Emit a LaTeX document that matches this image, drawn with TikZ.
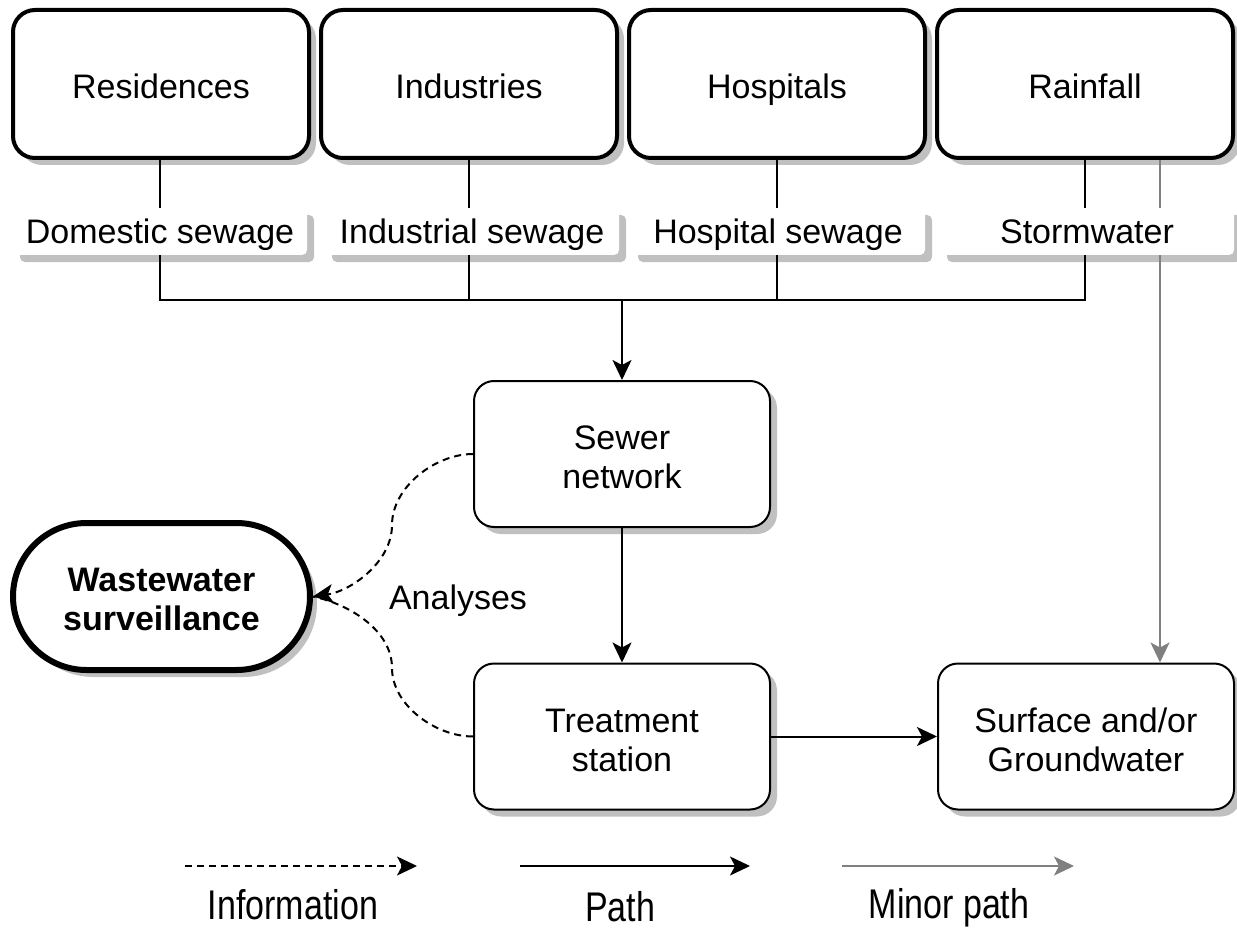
\documentclass[tikz,border=0pt]{standalone}
\usepackage{fontspec}
\usepackage{graphicx}
\setmainfont{Liberation Sans}
\usetikzlibrary{arrows.meta,shadows,shapes.misc}
\definecolor{minorgray}{RGB}{128,128,128}
\definecolor{shadowgray}{RGB}{192,192,192}
\newcommand{\toprule}[1]{\rule{0pt}{#1}}
\begin{document}
\begin{tikzpicture}[x=1pt,y=-1pt,
  every node/.style={font=\fontsize{34}{39}\selectfont, align=center, inner sep=0pt},
  shad/.style={drop shadow={shadow xshift=7pt,shadow yshift=-7pt,fill=shadowgray,opacity=1}},
  srcbox/.style={draw, line width=4pt, rounded corners=22pt, minimum width=296pt, minimum height=148pt, fill=white, shad, text height=29.5pt, text depth=0pt},
  midbox/.style={draw, line width=2pt, rounded corners=20pt, minimum width=296pt, minimum height=146pt, fill=white, shad},
  lbl/.style={fill=white, rounded corners=5pt, minimum width=294pt, minimum height=47pt, shad, text height=24.5pt, text depth=0pt},
  conn/.style={line width=2pt},
  flow/.style={line width=2pt, -{Stealth[length=20pt,width=19pt,inset=5pt]}},
  minor/.style={line width=2pt, draw=minorgray},
  minorflow/.style={line width=2pt, draw=minorgray, -{Stealth[length=20pt,width=19pt,inset=5pt,fill=minorgray]}},
  info/.style={line width=2pt, dash pattern=on 7pt off 5pt},
  infoflow/.style={line width=2pt, dash pattern=on 7pt off 5pt, -{Stealth[length=20pt,width=19pt,inset=5pt]}},
  legtext/.style={font=\fontsize{34}{39}\selectfont, anchor=base}
]
\useasboundingbox (0,0) rectangle (1237,928);

% source boxes
\node[srcbox] (res)  at (161,84)  {Residences};
\node[srcbox] (ind)  at (469,84)  {Industries};
\node[srcbox] (hos)  at (777,84)  {Hospitals};
\node[srcbox] (rain) at (1085,84) {Rainfall};

% sewage labels
\node[lbl] (dom)   at (160,231.5)  {Domestic sewage};
\node[lbl] (indl)  at (472,231.5)  {Industrial sewage};
\node[lbl] (hosl)  at (778,231.5)  {Hospital sewage};
\node[lbl] (storm) at (1087,231.5) {Stormwater};

% main boxes
\node[midbox] (sewer) at (622,454) {\toprule{31pt}Sewer\\network};
\node[midbox] (treat) at (622,736.5) {\toprule{31pt}Treatment\\station};
\node[midbox] (surf)  at (1086,736.5) {\toprule{31pt}Surface and/or\\Groundwater};

\node[draw, rounded rectangle, line width=6pt, minimum width=297pt, minimum height=147pt,
      fill=white, shad, font=\fontsize{34}{39}\selectfont\bfseries] (ws) at (161.5,596.5) {\toprule{29pt}Wastewater\\surveillance};

\node (an) at (458,601) {Analyses};

% coordinates
\coordinate (jn) at (622,300);
\coordinate (gx) at (1160,0);

% connectors from sources to labels
\draw[conn] (res.south -| dom.north) -- (dom.north);
\draw[conn] (ind.south) -- (ind.south |- indl.north);
\draw[conn] (hos.south) -- (hos.south |- hosl.north);
\draw[conn] (rain.south) -- (rain.south |- storm.north);

% collector
\draw[conn] (dom.south) -- (dom.south |- jn) -- (rain.south |- jn) -- (rain.south |- storm.south);
\draw[conn] (ind.south |- indl.south) -- (ind.south |- jn);
\draw[conn] (hos.south |- hosl.south) -- (hos.south |- jn);
\draw[flow] (jn) -- (sewer.north);

% main path
\draw[flow] (sewer.south) -- (treat.north);
\draw[flow] (treat.east) -- (surf.west);

% minor path
\draw[minor] (rain.south -| gx) -- (storm.north -| gx);
\draw[minorflow] (storm.south -| gx) -- (surf.north -| gx);

% information
\draw[info] (treat.west) to[out=180,in=-90,looseness=0.9] (392,668) to[out=90,in=-12,looseness=0.9] (ws.east);
\draw[infoflow] (sewer.west) to[out=180,in=90,looseness=0.9] (392,525) to[out=-90,in=8,looseness=0.9] (ws.east);

% legend
\coordinate (l1a) at (185,866);  \coordinate (l1b) at (417,866);
\coordinate (l2a) at (520,866);  \coordinate (l2b) at (750,866);
\coordinate (l3a) at (842,866);  \coordinate (l3b) at (1074,866);
\draw[infoflow] (l1a) -- (l1b);
\draw[flow] (l2a) -- (l2b);
\draw[minorflow] (l3a) -- (l3b);
\node[legtext] (t1) at (293,919) {\scalebox{1}[1.22]{Information}};
\node[legtext] (t2) at (620,921) {\scalebox{1}[1.22]{Path}};
\node[legtext] (t3) at (949,918) {\scalebox{1}[1.22]{Minor path}};
\end{tikzpicture}
\end{document}
